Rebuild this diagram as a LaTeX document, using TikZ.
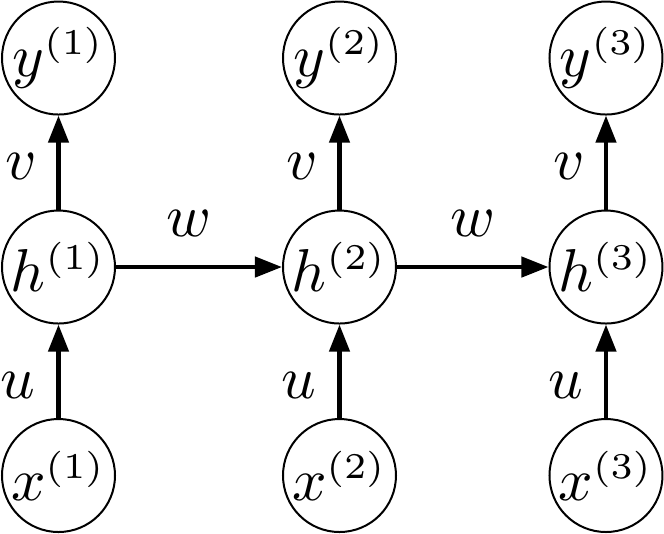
\documentclass[tikz,border=0pt]{standalone}
\DeclareMathSizes{10}{10}{6}{5}
\usetikzlibrary{arrows.meta}
\begin{document}
\begin{tikzpicture}[x=0.1652pt,y=-0.1652pt,
  unit/.style={draw,circle,line width=0.33pt,minimum size=18.67pt,inner sep=0pt},
  lbl/.style={inner sep=0pt},
  conn/.style={line width=0.727pt,-{Triangle[length=4.46pt,width=3.3pt]}}]
\useasboundingbox (0,0) rectangle (664,533);
\foreach \i/\cx in {1/58.5,2/339.5,3/606}{
  \node[unit] (y\i) at (\cx,58) {$y^{(\i)}$};
  \node[unit] (h\i) at (\cx,267) {$h^{(\i)}$};
  \node[unit] (x\i) at (\cx,475.5) {$x^{(\i)}$};
  \draw[conn] (h\i) -- (y\i);
  \draw[conn] (x\i) -- (h\i);
  \node[lbl] (v\i) at (\cx-37,166) {$v$};
  \node[lbl] (u\i) at (\cx-40.5,385) {$u$};
}
\draw[conn] (h1) -- (h2);
\draw[conn] (h2) -- (h3);
\node[lbl] (w1) at (189,223.5) {$w$};
\node[lbl] (w2) at (472.5,223.5) {$w$};
\end{tikzpicture}
\end{document}
